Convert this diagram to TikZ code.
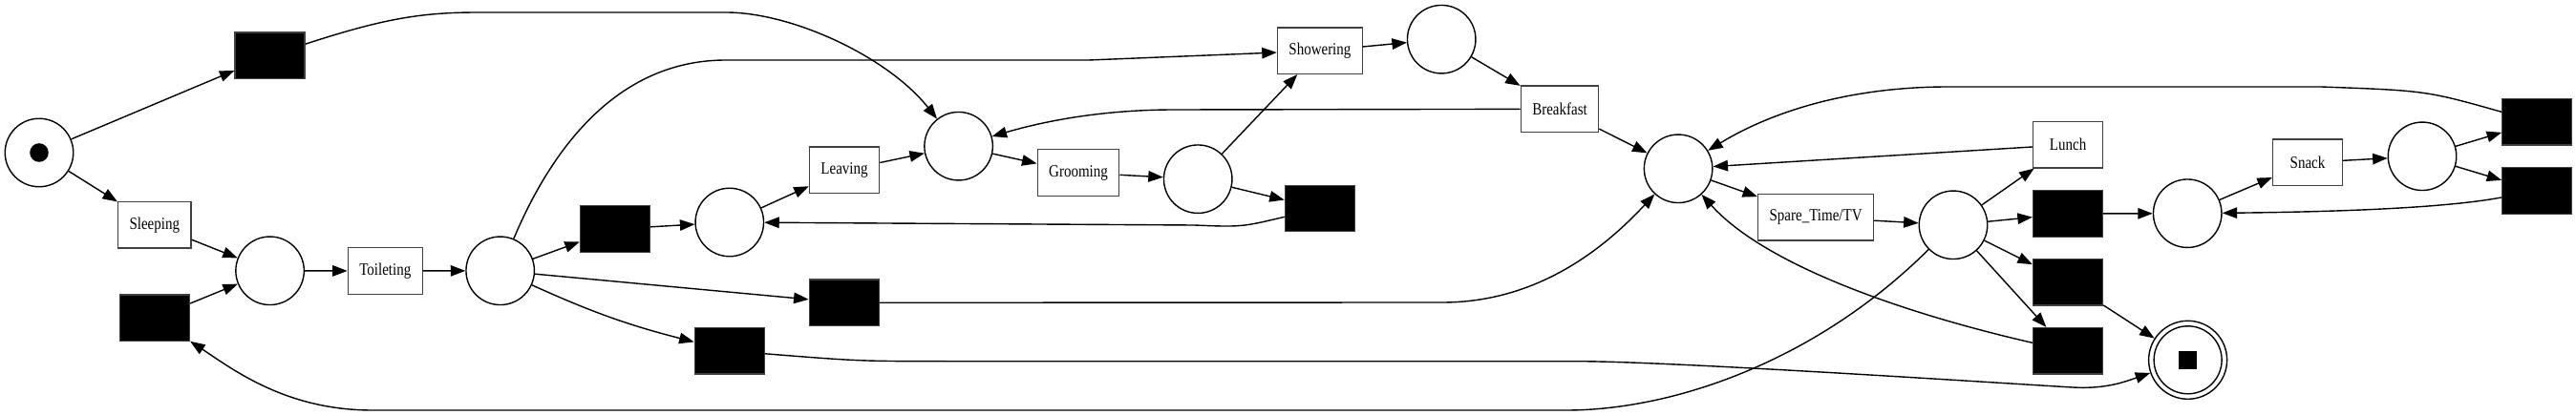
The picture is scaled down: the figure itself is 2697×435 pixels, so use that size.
\documentclass[tikz,border=0pt]{standalone}
\usepackage{fontspec}
\setmainfont{Liberation Serif}
\usetikzlibrary{arrows.meta}
\newcommand{\tlbl}[1]{\scalebox{1}[1.2]{#1}}
\begin{document}
\begin{tikzpicture}[x=1pt,y=-1pt,
  place/.style={circle,draw,line width=1.4pt,minimum size=71.5pt,inner sep=0pt},
  trans/.style={rectangle,draw=black!75,line width=1.3pt,minimum width=73pt,minimum height=48.5pt,inner xsep=12pt,font=\fontsize{15}{15}\selectfont},
  silent/.style={rectangle,draw=black!75,fill=black,line width=1.3pt,minimum width=73pt,minimum height=48.5pt,inner sep=0pt},
  arc/.style={-{Triangle[length=15.5pt,width=11.5pt]},line width=1.4pt}]
\useasboundingbox (0,0) rectangle (2697,435);
% places
\node[place] (ps) at (41,160) {};
\fill (ps) circle[radius=9.8pt];
\node[place] (p1) at (282.6,283.8) {};
\node[place] (p2) at (523.7,283.8) {};
\node[place] (p3) at (763.8,233) {};
\node[place] (p4) at (1003.6,153.2) {};
\node[place] (p5) at (1254.2,187.7) {};
\node[place] (p6) at (1509.2,41.2) {};
\node[place] (p7) at (1757.1,176.8) {};
\node[place] (p8) at (2045,235.8) {};
\node[place] (p9) at (2290.2,223.7) {};
\node[place] (p10) at (2536,163.8) {};
\node[place,minimum size=82pt] (pend) at (2290.6,377.3) {};
\draw[line width=1.4pt] (pend) circle[radius=35.5pt];
\node[fill=black,minimum size=19pt,inner sep=0pt] (endtok) at (pend) {};
% transitions
\node[silent] (t1) at (282.6,58.3) {};
\node[trans] (sleep) at (161.8,235.8) {\tlbl{Sleeping}};
\node[silent] (t2) at (162,333.3) {};
\node[trans] (toil) at (403.3,284) {\tlbl{Toileting}};
\node[silent] (t3) at (644,240) {};
\node[silent] (t5) at (883.7,317.3) {};
\node[silent] (t6) at (763.8,367.8) {};
\node[trans] (leave) at (884,178.3) {\tlbl{Leaving}};
\node[trans] (groom) at (1129,181) {\tlbl{Grooming}};
\node[trans] (show) at (1381.9,53.2) {\tlbl{Showering}};
\node[silent] (t4) at (1381.9,218.5) {};
\node[trans] (break) at (1633,114.3) {\tlbl{Breakfast}};
\node[trans] (spare) at (1901.1,227.8) {\tlbl{Spare\_Time/TV}};
\node[trans] (lunch) at (2165.1,151.7) {\tlbl{Lunch}};
\node[silent] (t7) at (2165,224) {};
\node[silent] (t8) at (2165,295.8) {};
\node[silent] (t9) at (2165,367.8) {};
\node[trans] (snack) at (2416,170.3) {\tlbl{Snack}};
\node[silent] (t10) at (2656.3,127.8) {};
\node[silent] (t11) at (2656.3,200) {};
% arcs
\draw[arc] (ps) -- (t1);
\draw[arc] (ps) -- (sleep);
\draw[arc] (t1) .. controls (400,20) and (440,13) .. (500,13) -- (760,13) .. controls (830,13) and (930,60) .. (p4);
\draw[arc] (sleep) -- (p1);
\draw[arc] (t2) -- (p1);
\draw[arc] (p1) -- (toil);
\draw[arc] (toil) -- (p2);
\draw[arc] (p2) .. controls (580,150) and (650,63) .. (760,63) -- (1140,63) -- (show);
\draw[arc] (p2) -- (t3);
\draw[arc] (p2) -- (t5);
\draw[arc] (p2) to[bend right=5] (t6);
\draw[arc] (t3) -- (p3);
\draw[arc] (p3) -- (leave);
\draw[arc] (leave) -- (p4);
\draw[arc] (p4) -- (groom);
\draw[arc] (groom) -- (p5);
\draw[arc] (p5) -- (show);
\draw[arc] (p5) -- (t4);
\draw[arc] (t4) .. controls (1300,238) .. (1250,236) -- (p3);
\draw[arc] (break) -- (1230,115) .. controls (1150,115) and (1090,128) .. (p4);
\draw[arc] (show) -- (p6);
\draw[arc] (p6) -- (break);
\draw[arc] (break) -- (p7);
\draw[arc] (t5) -- (1510,317) .. controls (1610,317) and (1680,260) .. (p7);
\draw[arc] (p7) -- (spare);
\draw[arc] (spare) -- (p8);
\draw[arc] (p8) -- (lunch);
\draw[arc] (p8) -- (t7);
\draw[arc] (p8) -- (t8);
\draw[arc] (p8) -- (t9);
\draw[arc] (p8) .. controls (1900,380) and (1750,430) .. (1640,430) -- (390,430) .. controls (300,430) and (245,388) .. (t2);
\draw[arc] (lunch) -- (p7);
\draw[arc] (t9) .. controls (2000,330) and (1850,280) .. (p7);
\draw[arc] (t8) -- (pend);
\draw[arc] (t6) .. controls (900,378.7) .. (1000,378.7) -- (1650,378.7) .. controls (1750,378.7) and (2100,402) .. (2170,406) .. controls (2205,408) and (2225,400) .. (pend);
\draw[arc] (t7) -- (p9);
\draw[arc] (p9) -- (snack);
\draw[arc] (snack) -- (p10);
\draw[arc] (p10) -- (t10);
\draw[arc] (p10) -- (t11);
\draw[arc] (t11) .. controls (2560,218) and (2450,222) .. (p9);
\draw[arc] (t10) .. controls (2540,95) .. (2430,91) -- (2040,91) .. controls (1930,91) and (1850,120) .. (p7);
\end{tikzpicture}
\end{document}
